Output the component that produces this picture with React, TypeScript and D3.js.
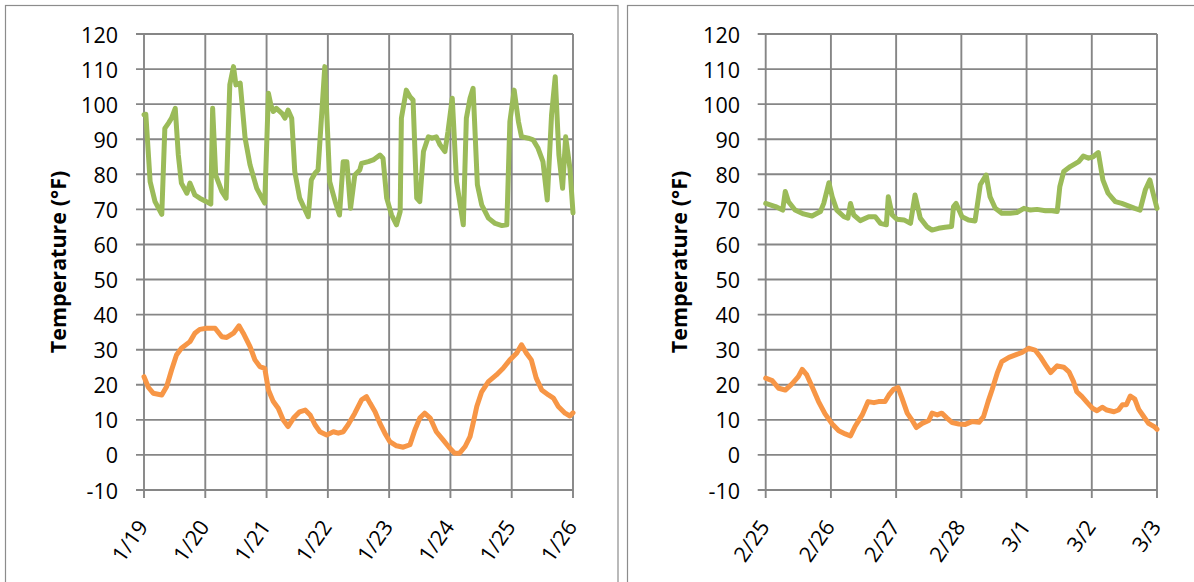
import React from "react";
import * as d3 from "d3";

// ---------- DATA ----------
const leftDates = ["1/19", "1/20", "1/21", "1/22", "1/23", "1/24", "1/25", "1/26"];
const rightDates = ["2/25", "2/26", "2/27", "2/28", "3/1", "3/2", "3/3"];
const yTicks = [-10, 0, 10, 20, 30, 40, 50, 60, 70, 80, 90, 100, 110, 120];

// [day offset from first date, °F]
const leftGreen: [number, number][] = [
  [0, 97], [0.03, 97.1], [0.1, 77.9], [0.18, 72.2], [0.29, 68.6], [0.34, 93.1], [0.4, 94.6], [0.45, 96],
  [0.51, 98.8], [0.56, 85.5], [0.61, 77.5], [0.7, 74.6], [0.75, 77.5], [0.83, 74.1], [0.91, 73.2],
  [1.02, 72.2], [1.09, 71.5], [1.12, 98.8], [1.17, 79.8], [1.27, 75.1], [1.34, 73.2], [1.4, 105.5],
  [1.46, 110.7], [1.5, 105.5], [1.57, 106], [1.65, 90.3], [1.73, 82.7], [1.84, 76], [1.97, 71.8],
  [2.03, 103.1], [2.07, 99.8], [2.11, 97.9], [2.16, 98.8], [2.25, 97.4], [2.3, 96], [2.35, 98.3],
  [2.41, 96], [2.46, 80.8], [2.54, 73.2], [2.68, 67.9], [2.73, 78.4], [2.79, 80.3], [2.84, 81.2],
  [2.95, 110.7], [3.03, 77.9], [3.12, 72.2], [3.19, 68.4], [3.25, 83.6], [3.31, 83.6], [3.37, 70.3],
  [3.44, 79.8], [3.52, 81.2], [3.55, 83.1], [3.66, 83.6], [3.74, 84.1], [3.85, 85.5], [3.9, 84.6],
  [3.96, 73.2], [4.04, 68.4], [4.12, 65.6], [4.18, 69.4], [4.2, 96], [4.28, 104], [4.34, 102.1],
  [4.39, 101.2], [4.45, 73.2], [4.5, 72.2], [4.56, 86.5], [4.64, 90.7], [4.7, 90.3], [4.77, 90.7],
  [4.83, 88.4], [4.91, 86.5], [4.96, 92.2], [5.03, 101.7], [5.1, 77.9], [5.21, 65.6], [5.26, 96],
  [5.32, 101.7], [5.37, 104.5], [5.44, 77], [5.51, 71.3], [5.62, 67.5], [5.73, 66], [5.84, 65.4],
  [5.92, 65.6], [5.97, 95], [6.04, 104], [6.11, 95], [6.16, 90.7], [6.27, 90.3], [6.35, 89.8],
  [6.43, 87.4], [6.51, 83.6], [6.58, 72.7], [6.65, 96.9], [6.71, 107.8], [6.77, 85.5], [6.83, 76],
  [6.88, 90.7], [6.95, 81.7], [7, 69],
];

const leftOrange: [number, number][] = [
  [0, 22.3], [0.07, 19.3], [0.15, 17.6], [0.29, 17.1], [0.37, 19.5], [0.45, 24.2], [0.53, 28.5],
  [0.61, 30.4], [0.75, 32.3], [0.83, 34.7], [0.91, 35.8], [1.02, 36.1], [1.16, 36.1], [1.27, 33.7],
  [1.35, 33.5], [1.46, 34.7], [1.55, 36.8], [1.62, 34.7], [1.73, 30.9], [1.81, 27.1], [1.89, 25.2],
  [1.97, 24.7], [2.03, 18.5], [2.11, 15.2], [2.19, 13.3], [2.27, 10], [2.35, 8.1], [2.44, 10.5],
  [2.54, 12.3], [2.63, 12.8], [2.71, 11.4], [2.79, 8.6], [2.87, 6.6], [2.98, 5.7], [3.09, 6.6],
  [3.17, 6.2], [3.25, 6.6], [3.33, 8.6], [3.44, 11.9], [3.55, 15.7], [3.63, 16.6], [3.69, 14.7],
  [3.77, 12.3], [3.85, 9], [3.93, 6.2], [4.01, 3.8], [4.12, 2.6], [4.23, 2.2], [4.34, 2.9],
  [4.42, 7.1], [4.5, 10.5], [4.58, 11.9], [4.67, 10.5], [4.77, 6.6], [4.88, 4.3], [4.99, 1.9],
  [5.07, 0.5], [5.15, 0.5], [5.24, 2.4], [5.32, 5.2], [5.37, 9], [5.43, 13.8], [5.51, 18],
  [5.62, 20.9], [5.75, 22.8], [5.86, 24.7], [5.97, 27.1], [6.08, 29], [6.16, 31.4], [6.24, 29],
  [6.32, 27.1], [6.4, 21.9], [6.49, 18.5], [6.6, 17.1], [6.68, 16.2], [6.76, 13.8], [6.87, 11.9],
  [6.95, 11.1], [7, 12],
];

const rightGreen: [number, number][] = [
  [0, 71.7], [0.15, 70.8], [0.26, 69.8], [0.3, 75.1], [0.35, 72.2], [0.45, 69.8], [0.58, 68.7],
  [0.71, 68.1], [0.84, 69.4], [0.89, 71.7], [0.97, 77.6], [1.02, 73.6], [1.09, 69.8], [1.2, 67.9],
  [1.26, 67.5], [1.3, 71.7], [1.35, 68.4], [1.45, 66.8], [1.58, 67.9], [1.68, 67.9], [1.76, 66],
  [1.85, 65.6], [1.88, 73.6], [1.94, 68.4], [2.01, 67.2], [2.12, 67], [2.22, 66], [2.29, 74.1],
  [2.37, 67.5], [2.47, 65.1], [2.55, 64.1], [2.65, 64.6], [2.75, 64.9], [2.85, 65.1], [2.88, 70.8],
  [2.92, 71.7], [3.01, 67.9], [3.11, 67], [3.21, 66.7], [3.29, 77], [3.38, 79.8], [3.44, 73.6],
  [3.52, 70.3], [3.62, 68.9], [3.75, 68.9], [3.85, 69.1], [3.96, 70.3], [4.06, 69.8], [4.16, 70],
  [4.29, 69.6], [4.39, 69.6], [4.47, 69.4], [4.51, 76.5], [4.57, 80.8], [4.67, 82.2], [4.8, 83.6],
  [4.87, 85.2], [4.95, 84.6], [5.02, 85], [5.1, 86.2], [5.17, 78.4], [5.25, 74.6], [5.36, 72.2],
  [5.46, 71.7], [5.56, 71], [5.66, 70.3], [5.74, 69.8], [5.82, 75.5], [5.89, 78.4], [5.94, 74.6],
  [6, 70.3],
];

const rightOrange: [number, number][] = [
  [0, 21.9], [0.1, 21.2], [0.2, 19], [0.3, 18.5], [0.4, 20.2], [0.5, 22.3], [0.56, 24.4], [0.63, 22.8],
  [0.71, 19.5], [0.81, 15.2], [0.91, 11.7], [1.02, 8.8], [1.12, 6.9], [1.22, 6], [1.3, 5.4],
  [1.37, 8.1], [1.48, 11.4], [1.57, 15.2], [1.66, 14.9], [1.73, 15.2], [1.83, 15.2], [1.89, 17.1],
  [1.96, 18.7], [2.03, 19.2], [2.09, 16.2], [2.17, 11.9], [2.24, 10], [2.31, 7.8], [2.4, 9],
  [2.5, 9.8], [2.55, 11.9], [2.63, 11.4], [2.7, 11.9], [2.78, 10.5], [2.86, 9.2], [2.96, 8.8],
  [3.06, 8.7], [3.16, 9.5], [3.27, 9.3], [3.34, 10.9], [3.41, 15.2], [3.47, 18.5], [3.55, 23.3],
  [3.62, 26.6], [3.73, 27.8], [3.83, 28.5], [3.93, 29.2], [4.03, 30.4], [4.13, 29.9], [4.21, 28],
  [4.29, 25.7], [4.37, 23.5], [4.47, 25.4], [4.57, 25], [4.65, 23.7], [4.72, 20.9], [4.77, 18],
  [4.85, 16.6], [4.93, 14.9], [5.01, 13.3], [5.08, 12.6], [5.16, 13.6], [5.23, 12.8], [5.34, 12.3],
  [5.41, 12.8], [5.47, 14.3], [5.53, 14.3], [5.59, 16.8], [5.66, 15.9], [5.72, 13], [5.79, 11.1],
  [5.87, 9], [5.97, 7.9], [6, 7.3],
];

// ---------- STYLE ----------
const GREEN = "#9bbb59";
const ORANGE = "#f79646";
const GRID = "#868686";
const FONT = "'Open Sans', 'Noto Sans', sans-serif";
const FS = 21.5;

type PanelProps = {
  dates: string[];
  green: [number, number][];
  orange: [number, number][];
  x0: number;
  x1: number;
  labelRight: number;
  titleX: number;
};

const Y_TOP = 34;
const Y_BOT = 490;

function Panel({ dates, green, orange, x0, x1, labelRight, titleX }: PanelProps) {
  const days = dates.length - 1;
  const x = d3.scaleLinear().domain([0, days]).range([x0, x1]);
  const y = d3.scaleLinear().domain([-10, 120]).range([Y_BOT, Y_TOP]);
  const line = d3
    .line<[number, number]>()
    .x((d) => x(d[0]))
    .y((d) => y(d[1]))
    .curve(d3.curveLinear);
  const dayIdx = d3.range(0, days + 1);

  return (
    <g>
      {yTicks.map((t) => (
        <g key={"y" + t}>
          <line x1={x0 - 8} x2={x1} y1={y(t)} y2={y(t)} stroke={GRID} strokeWidth={1.9} />
          <text
            x={labelRight}
            y={y(t)}
            textAnchor="end"
            dominantBaseline="central"
            fontFamily={FONT}
            fontSize={FS}
            fill="#000"
          >
            {t}
          </text>
        </g>
      ))}
      {dayIdx.map((i) => (
        <g key={"x" + i}>
          <line x1={x(i)} x2={x(i)} y1={Y_TOP} y2={Y_BOT + 8} stroke={GRID} strokeWidth={1.9} />
          <text
            transform={`translate(${x(i) - 2},${Y_BOT + 32}) rotate(-55)`}
            textAnchor="end"
            dominantBaseline="central"
            fontFamily={FONT}
            fontSize={FS}
            fill="#000"
          >
            {dates[i]}
          </text>
        </g>
      ))}
      <text
        transform={`translate(${titleX},${(Y_TOP + Y_BOT) / 2}) rotate(-90)`}
        textAnchor="middle"
        dominantBaseline="central"
        fontFamily={FONT}
        fontWeight="bold"
        fontSize={FS}
        fill="#000"
      >
        Temperature (°F)
      </text>
      <path d={line(green) || ""} fill="none" stroke={GREEN} strokeWidth={5} strokeLinejoin="round" strokeLinecap="round" />
      <path d={line(orange) || ""} fill="none" stroke={ORANGE} strokeWidth={5} strokeLinejoin="round" strokeLinecap="round" />
    </g>
  );
}

export default function App() {
  return (
    <svg
      width={1194}
      height={582}
      style={{ position: "absolute", left: 0, top: 0, background: "#fff" }}
    >
      <rect x={0} y={0} width={1194} height={582} fill="#fff" />
      <rect x={5.5} y={5.5} width={612.5} height={600} fill="none" stroke="#8c8c8c" strokeWidth={1.2} />
      <rect x={627.5} y={5.5} width={600} height={600} fill="none" stroke="#8c8c8c" strokeWidth={1.2} />
      <Panel dates={leftDates} green={leftGreen} orange={leftOrange} x0={144} x1={573} labelRight={118} titleX={57} />
      <Panel dates={rightDates} green={rightGreen} orange={rightOrange} x0={765.7} x1={1157} labelRight={740} titleX={678} />
    </svg>
  );
}
